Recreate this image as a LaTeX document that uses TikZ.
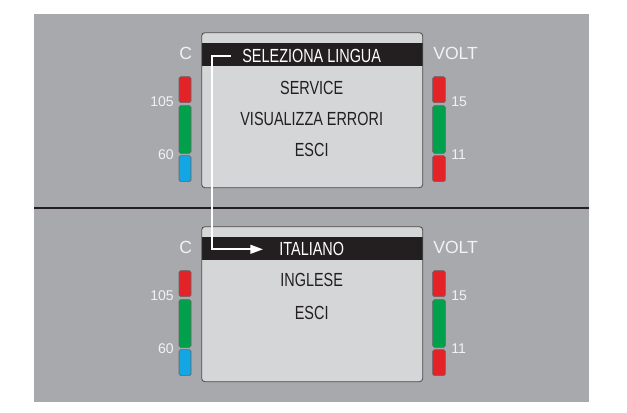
\documentclass[tikz,border=0pt]{standalone}
\usepackage{fontspec}
\setmainfont{Liberation Sans}
\newfontfamily\condfont[FakeStretch=0.76]{Liberation Sans}
\usetikzlibrary{arrows.meta, positioning, calc}
\definecolor{panelgray}{HTML}{A7A9AC}
\definecolor{screengray}{HTML}{D5D6D8}
\definecolor{barblack}{HTML}{231F20}
\definecolor{ledred}{HTML}{E42328}
\definecolor{ledgreen}{HTML}{00A04C}
\definecolor{ledblue}{HTML}{14A5E3}
\definecolor{labelwhite}{HTML}{F2F2F2}

\begin{document}
\begin{tikzpicture}[x=0.25mm, y=-0.25mm,
  scr/.style={draw=black!70, line width=0.6pt, rounded corners=0.8mm},
  bar/.style={draw=black!60, line width=0.4pt, rounded corners=0.4mm},
  menu/.style={font=\condfont\fontsize{13.5}{15}\selectfont, text=barblack, inner sep=0pt},
  title/.style={menu, text=white},
  lbl/.style={font=\fontsize{12.5}{14}\selectfont, text=labelwhite, inner sep=0pt},
  num/.style={font=\fontsize{10}{11}\selectfont, text=labelwhite, inner sep=0pt}]
  \useasboundingbox (0,0) rectangle (627,413);
  % background
  \fill[panelgray] (34,14) rectangle (589,401.7);
  \draw[barblack, line width=1.6pt] (34,207.7) -- (589,207.7);
  % the two screens with their scales
  \foreach \i/\oy in {1/0, 2/194} {
    \fill[screengray, rounded corners=0.8mm] (201.7,32.7+\oy) rectangle (422.7,187.7+\oy);
    \fill[barblack] (201.7,43.3+\oy) rectangle (422.7,66+\oy);
    \draw[scr] (201.7,32.7+\oy) rectangle (422.7,187.7+\oy);
    % left scale
    \draw[bar, fill=ledred] (179,76.7+\oy) rectangle (191,102.7+\oy);
    \draw[bar, fill=ledgreen] (179,105.7+\oy) rectangle (191,153.3+\oy);
    \draw[bar, fill=ledblue] (179,155.7+\oy) rectangle (191,181.7+\oy);
    \node[lbl] (c\i) at (185.8,53+\oy) {C};
    \node[num, anchor=east] (hi\i) at (174,101.7+\oy) {105};
    \node[num, anchor=east] (lo\i) at (174,154.3+\oy) {60};
    % right scale
    \draw[bar, fill=ledred] (432.7,76.7+\oy) rectangle (445.3,102.7+\oy);
    \draw[bar, fill=ledgreen] (432.7,105.7+\oy) rectangle (445.3,153.3+\oy);
    \draw[bar, fill=ledred] (432.7,155.7+\oy) rectangle (445.3,181.7+\oy);
    \node[lbl, anchor=west] (volt\i) at (433,53+\oy) {VOLT};
    \node[num, anchor=west] (vhi\i) at (451,101.7+\oy) {15};
    \node[num, anchor=west] (vlo\i) at (451,154.3+\oy) {11};
  }
  % first menu
  \node[title] (sel) at (311.7,56) {SELEZIONA LINGUA};
  \node[menu] (service) at (311.7,87.7) {SERVICE};
  \node[menu] (errori) at (311.7,119.3) {VISUALIZZA ERRORI};
  \node[menu] (esci1) at (311.7,150) {ESCI};
  % second menu
  \node[title] (ita) at (311.7,249.3) {ITALIANO};
  \node[menu] (inglese) at (311.7,280) {INGLESE};
  \node[menu] (esci2) at (311.7,313.3) {ESCI};
  % selection arrow
  \draw[white, line width=1.4pt, -{Triangle[length=3.2mm, width=2.2mm]}]
    ([xshift=-2.8mm]sel.west) -- ++(-19,0) |- ([xshift=-4mm]ita.west);
\end{tikzpicture}
\end{document}
